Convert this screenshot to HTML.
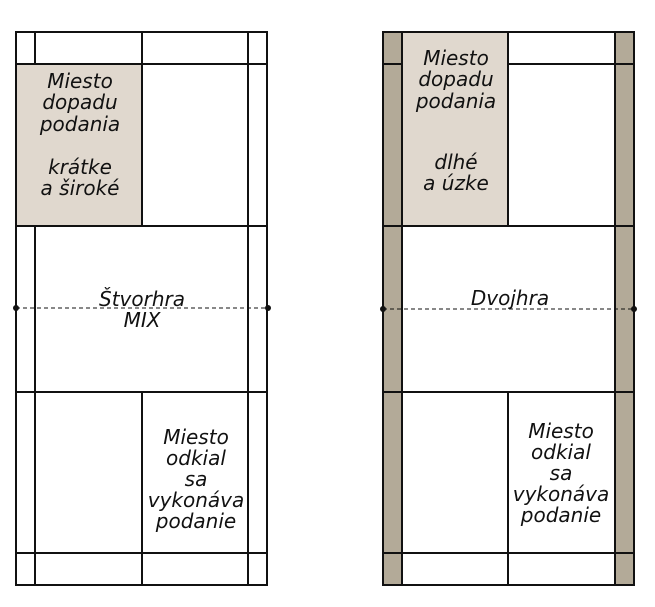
<!DOCTYPE html>
<html><head><meta charset="utf-8"><style>
html,body{margin:0;padding:0;background:#fff;width:655px;height:607px;overflow:hidden}
text{font-family:"DejaVu Sans","Liberation Sans",sans-serif;font-size:20px;fill:#111;font-style:italic}
</style></head><body>
<svg width="655" height="607" viewBox="0 0 655 607" xmlns="http://www.w3.org/2000/svg">
<g stroke="#111" stroke-width="2" fill="none">
<!-- left court -->
<rect x="16" y="64" width="126" height="162" fill="#e0d8ce" stroke="none"/>
<rect x="16" y="32" width="251" height="553"/>
<line x1="35" y1="32" x2="35" y2="64"/><line x1="35" y1="226" x2="35" y2="585"/>
<line x1="248" y1="32" x2="248" y2="585"/>
<line x1="142" y1="32" x2="142" y2="226"/><line x1="142" y1="392" x2="142" y2="585"/>
<line x1="16" y1="64" x2="267" y2="64"/><line x1="16" y1="226" x2="267" y2="226"/>
<line x1="16" y1="392" x2="267" y2="392"/><line x1="16" y1="553" x2="267" y2="553"/>
<line x1="16" y1="308" x2="267" y2="308" stroke-dasharray="4,3" stroke-width="1"/>
<!-- right court -->
<rect x="383" y="32" width="19" height="553" fill="#b3aa98" stroke="none"/>
<rect x="615" y="32" width="19" height="553" fill="#b3aa98" stroke="none"/>
<rect x="402" y="32" width="106" height="194" fill="#e0d8ce" stroke="none"/>
<rect x="383" y="32" width="251" height="553"/>
<line x1="402" y1="32" x2="402" y2="585"/><line x1="615" y1="32" x2="615" y2="585"/>
<line x1="508" y1="32" x2="508" y2="226"/><line x1="508" y1="392" x2="508" y2="585"/>
<line x1="383" y1="64" x2="402" y2="64"/><line x1="508" y1="64" x2="634" y2="64"/>
<line x1="383" y1="226" x2="634" y2="226"/>
<line x1="383" y1="392" x2="634" y2="392"/><line x1="383" y1="553" x2="634" y2="553"/>
<line x1="383" y1="309" x2="634" y2="309" stroke-dasharray="4,3" stroke-width="1"/>
</g>
<g fill="#111"><circle cx="16" cy="308" r="3"/><circle cx="268" cy="308" r="3"/><circle cx="383" cy="309" r="3"/><circle cx="634" cy="309" r="3"/></g>
<g text-anchor="middle">
<text x="80" y="88">Miesto</text><text x="80" y="109">dopadu</text><text x="80" y="131">podania</text>
<text x="80" y="174">krátke</text><text x="80" y="195">a široké</text>
<text x="142" y="306">Štvorhra</text><text x="142" y="327">MIX</text>
<text x="196" y="444">Miesto</text><text x="196" y="465">odkial</text><text x="196" y="486">sa</text><text x="196" y="507">vykonáva</text><text x="196" y="528">podanie</text>
<text x="456" y="65">Miesto</text><text x="456" y="86">dopadu</text><text x="456" y="108">podania</text>
<text x="456" y="169">dlhé</text><text x="456" y="190">a úzke</text>
<text x="510" y="305">Dvojhra</text>
<text x="561" y="438">Miesto</text><text x="561" y="459">odkial</text><text x="561" y="480">sa</text><text x="561" y="501">vykonáva</text><text x="561" y="522">podanie</text>
</g>
</svg>
</body></html>
